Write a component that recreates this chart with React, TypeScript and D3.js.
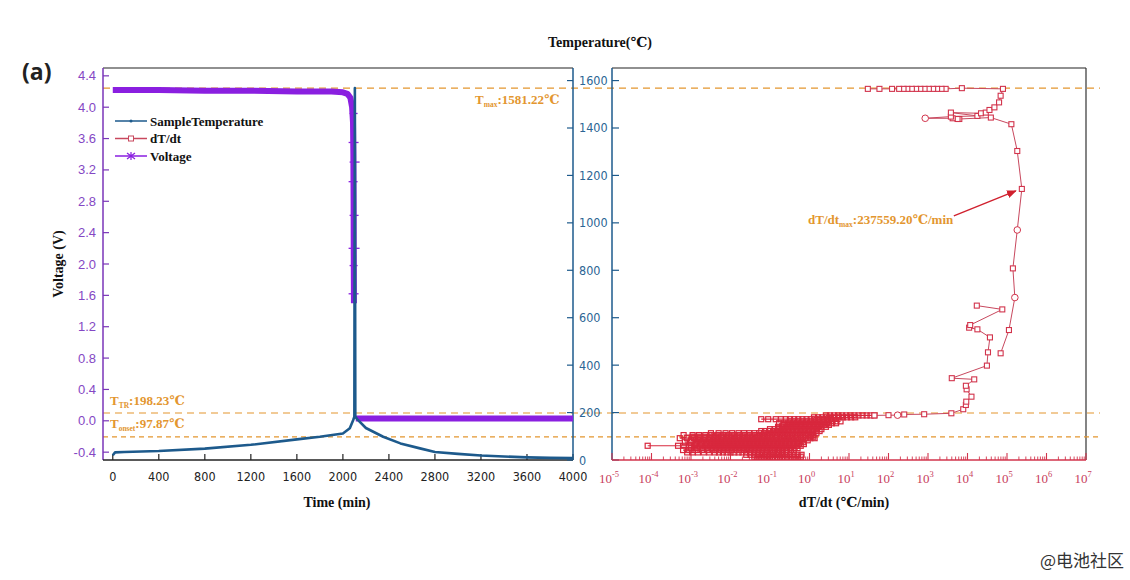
import React, { useEffect, useRef } from 'react';
import { select, scaleLinear, scaleLog, line } from 'd3';

// tick labels
const timeTicks = [0, 400, 800, 1200, 1600, 2000, 2400, 2800, 3200, 3600, 4000];
const voltageTicks = [-0.4, 0, 0.4, 0.8, 1.2, 1.6, 2.0, 2.4, 2.8, 3.2, 3.6, 4.0, 4.4];
const tempTicks = [0, 200, 400, 600, 800, 1000, 1200, 1400, 1600];
const rateExponents = [-5, -4, -3, -2, -1, 0, 1, 2, 3, 4, 5, 6, 7];

// voltage (time min, V)
const voltageBefore: [number, number][] = [
  [0, 4.22], [400, 4.22], [800, 4.21], [1200, 4.21], [1600, 4.2], [1900, 4.2], [2000, 4.19],
  [2040, 4.17], [2065, 4.12], [2080, 4.0], [2088, 3.8], [2091, 3.4], [2093, 2.8], [2094, 2.2],
  [2095, 1.8], [2096, 1.5],
];
const voltageAfter: [number, number][] = [
  [2112, 0.03], [2400, 0.03], [2800, 0.03], [3200, 0.03], [3600, 0.03], [4000, 0.03],
];
const voltageDropMarks = [3.92, 3.55, 3.3, 3.05, 2.62, 2.2, 1.98, 1.62];

// sample temperature (time min, °C)
const sampleTemp: [number, number][] = [
  [0, 20], [20, 32], [100, 34], [400, 38], [800, 48], [1200, 64], [1600, 87], [1800, 98],
  [2000, 112], [2060, 134], [2090, 169], [2100, 183], [2104, 1568], [2108, 183], [2130, 169],
  [2200, 135], [2350, 98], [2500, 70], [2670, 49], [2800, 34], [3000, 26], [3200, 19],
  [3400, 15], [3600, 11], [3800, 9], [4000, 8],
];

// dT/dt vs temperature, low-temperature rows (°C, then rates °C/min)
const lowRowTemps = [14, 22, 32, 42, 50, 60, 67, 75, 83, 92, 98, 105, 113, 122, 130, 140, 148, 155, 163, 172, 180, 188];
const lowRowRates = [
  [0.04, 0.048, 0.058, 0.07, 0.085, 0.1, 0.12, 0.15, 0.18, 0.22, 0.27, 0.33, 0.4, 0.5, 0.6],
  [0.025, 0.032, 0.04, 0.05, 0.062, 0.075, 0.092, 0.11, 0.14, 0.17, 0.21, 0.26, 0.32, 0.4, 0.5, 0.63],
  [8e-4, 1.1e-3, 1.5e-3, 2.1e-3, 2.9e-3, 4e-3, 5.1e-3, 6.4e-3, 8e-3, 0.01, 0.0125, 0.016, 0.02, 0.025, 0.031, 0.039, 0.049, 0.062, 0.078, 0.098, 0.12, 0.155, 0.2, 0.25],
  [6.3e-4, 9e-4, 1.3e-3, 1.9e-3, 2.7e-3, 3.5e-3, 4.4e-3, 5.6e-3, 7e-3, 8.8e-3, 0.011, 0.014, 0.017, 0.022, 0.027, 0.034, 0.043, 0.054, 0.068, 0.085, 0.11, 0.135, 0.17, 0.21, 0.27, 0.34, 0.4],
  [1e-3, 1.4e-3, 2e-3, 2.6e-3, 3.3e-3, 4.2e-3, 5.3e-3, 6.7e-3, 8.4e-3, 0.0105, 0.013, 0.0165, 0.021, 0.026, 0.033, 0.041, 0.052, 0.065, 0.082, 0.1, 0.13, 0.16, 0.2, 0.25, 0.32, 0.42, 0.5],
  [8e-5, 4.7e-4, 6.5e-4, 9e-4, 1.25e-3, 1.7e-3, 2.3e-3, 3e-3, 3.8e-3, 4.8e-3, 6e-3, 7.6e-3, 9.5e-3, 0.012, 0.015, 0.019, 0.024, 0.03, 0.038, 0.047, 0.06, 0.075, 0.094, 0.12, 0.15, 0.19, 0.24, 0.3, 0.38, 0.48, 0.6],
  [1.3e-3, 1.8e-3, 2.5e-3, 3.2e-3, 4e-3, 5e-3, 6.3e-3, 8e-3, 0.01, 0.0126, 0.016, 0.02, 0.025, 0.0316, 0.04, 0.05, 0.063, 0.079, 0.1, 0.126, 0.16, 0.2, 0.25, 0.32, 0.4, 0.55, 0.72],
  [7e-4, 1e-3, 1.4e-3, 1.9e-3, 2.6e-3, 3.4e-3, 4.3e-3, 5.5e-3, 7e-3, 8.9e-3, 0.0112, 0.0142, 0.018, 0.023, 0.029, 0.036, 0.046, 0.058, 0.073, 0.092, 0.116, 0.147, 0.185, 0.234, 0.3, 0.38, 0.5, 0.7],
  [1e-3, 1.5e-3, 2.1e-3, 2.8e-3, 3.6e-3, 4.6e-3, 5.8e-3, 7.4e-3, 9.3e-3, 0.0118, 0.015, 0.019, 0.024, 0.03, 0.038, 0.048, 0.061, 0.077, 0.097, 0.123, 0.155, 0.196, 0.25, 0.31, 0.4, 0.52, 0.68, 0.9],
  [5.2e-4, 8e-4, 1.2e-3, 1.7e-3, 2.3e-3, 3e-3, 3.9e-3, 5e-3, 6.4e-3, 8.1e-3, 0.0103, 0.013, 0.0165, 0.021, 0.0265, 0.034, 0.043, 0.054, 0.069, 0.087, 0.11, 0.14, 0.177, 0.225, 0.285, 0.36, 0.46, 0.6, 0.8, 1.05, 1.35],
  [1.1e-3, 1.6e-3, 2.2e-3, 3e-3, 4.2e-3, 5.8e-3, 8e-3, 0.011, 0.015, 0.02, 0.027, 0.036, 0.048, 0.064, 0.085, 0.113, 0.15, 0.2, 0.27, 0.36, 0.5, 0.7, 1.0, 1.25],
  [6.5e-4, 1.1e-3, 1.6e-3, 2.3e-3, 3.3e-3, 4.7e-3, 6.5e-3, 9e-3, 0.0125, 0.017, 0.023, 0.031, 0.042, 0.056, 0.075, 0.1, 0.135, 0.18, 0.24, 0.32, 0.43, 0.58, 0.8, 1.1, 1.25],
  [3.2e-3, 5e-3, 7.5e-3, 0.011, 0.016, 0.022, 0.03, 0.04, 0.053, 0.07, 0.092, 0.12, 0.16, 0.21, 0.28, 0.37, 0.5, 0.68, 0.9, 1.2, 1.5],
  [0.06, 0.075, 0.095, 0.12, 0.15, 0.19, 0.24, 0.3, 0.38, 0.48, 0.6, 0.76, 0.96, 1.2, 1.5, 1.8],
  [0.1, 0.13, 0.17, 0.22, 0.28, 0.36, 0.46, 0.59, 0.75, 0.96, 1.22, 1.56, 2.0],
  [0.16, 0.2, 0.25, 0.32, 0.4, 0.5, 0.63, 0.8, 1.0, 1.26, 1.6, 2.0, 2.6],
  [0.22, 0.28, 0.36, 0.46, 0.58, 0.74, 0.94, 1.2, 1.52, 1.94, 2.46, 3.1],
  [0.17, 0.22, 0.29, 0.37, 0.48, 0.62, 0.8, 1.03, 1.33, 1.7, 2.2, 2.85, 3.7, 4.7],
  [0.32, 0.41, 0.52, 0.67, 0.86, 1.1, 1.4, 1.8, 2.3, 2.95, 3.8, 4.8, 6.1],
  [0.06, 0.09, 0.14, 0.19, 0.25, 0.32, 0.41, 0.52, 0.66, 0.84, 1.07, 1.36, 1.73, 2.2, 2.8, 3.5],
  [1.3, 1.65, 2.1, 2.7, 3.4, 4.3, 5.5, 7, 8.9, 11.3, 14.4],
  [2.6, 3.3, 4.2, 5.3, 6.7, 8.5, 10.8, 13.7, 17.4, 22, 28, 35, 44],
];

// dT/dt vs temperature, runaway climb (rate, °C)
const rateClimb: [number, number][] = [
  [44, 188], [100, 189], [170, 189], [250, 192], [800, 193], [3900, 197], [7800, 214],
  [9100, 232], [9300, 246], [12600, 267], [9500, 298], [9100, 313], [14800, 340], [4000, 345],
  [31000, 398], [33000, 454], [37000, 517], [17800, 551], [11000, 558], [11700, 569],
  [76000, 635], [17200, 651],
];
const ratePeak: [number, number][] = [
  [69000, 450], [112000, 548], [158000, 685], [141000, 808], [182000, 970], [237559.2, 1143],
  [182000, 1303], [129000, 1416], [39000, 1444], [6200, 1438], [5600, 1438], [4200, 1441],
  [850, 1441], [3800, 1448], [17800, 1451], [3800, 1465], [22000, 1462], [29000, 1465],
  [36000, 1476], [48000, 1487], [63000, 1508], [69000, 1536], [79000, 1565], [7200, 1568],
  [2800, 1565], [2200, 1565], [1700, 1565], [1350, 1565], [1050, 1565], [820, 1565],
  [640, 1565], [500, 1565], [390, 1565], [300, 1565], [240, 1565], [186, 1565], [123, 1565],
  [59, 1565], [30, 1565],
];
const rateCircles: [number, number][] = [[170, 189], [850, 1441], [182000, 970], [158000, 685]];

const T_MAX = 1581.22;
const T_TR = 198.23;
const T_ONSET = 97.87;
const RATE_MAX = 237559.2;

const ORANGE = '#e3962f';
const PURPLE = '#8a1fe0';
const TEAL = '#1d5a8c';
const RED = '#d2344c';
const DENSE_RED = '#d8283e';
const SERIF = '"Liberation Serif", "DejaVu Serif", serif';
const SANS = '"Liberation Sans", Arial, sans-serif';
const NARROW = '"DejaVu Sans Condensed", "Liberation Sans Narrow", "Liberation Sans", sans-serif';

const App: React.FC = () => {
  const svgRef = useRef<SVGSVGElement | null>(null);

  useEffect(() => {
    const svg = select(svgRef.current);
    svg.selectAll('*').remove();

    const xTime = scaleLinear().domain([-85, 4000]).range([103, 573]);
    const yVolt = scaleLinear().domain([-0.5, 4.5]).range([460, 68]);
    const yTemp = scaleLinear().domain([0, 1653]).range([460, 68]);
    const xRate = scaleLog().domain([1e-5, 1e7]).range([612, 1086]);

    const [l0, l1] = xTime.range();
    const [r0, r1] = xRate.range();
    const [bot, top] = yVolt.range();

    // frames
    svg.append('line').attr('x1', l0).attr('x2', l1).attr('y1', top).attr('y2', top).attr('stroke', '#222').attr('stroke-width', 1.2);
    svg.append('line').attr('x1', r0).attr('x2', r1).attr('y1', top).attr('y2', top).attr('stroke', '#222').attr('stroke-width', 1.2);
    svg.append('line').attr('x1', r1).attr('x2', r1).attr('y1', top).attr('y2', bot).attr('stroke', '#333').attr('stroke-width', 1.2);

    // dashed reference lines
    const tPeak = Math.max(...sampleTemp.map(d => d[1]));
    [tPeak, T_TR, T_ONSET].forEach((t, i) => {
      svg.append('line')
        .attr('x1', l0).attr('x2', 1100)
        .attr('y1', yTemp(t)).attr('y2', yTemp(t))
        .attr('stroke', ORANGE).attr('stroke-width', 1.2)
        .attr('stroke-dasharray', i === 2 ? '5,4' : '7,5');
    });

    // left voltage axis
    svg.append('line').attr('x1', l0).attr('x2', l0).attr('y1', top).attr('y2', bot).attr('stroke', '#7a35b8').attr('stroke-width', 1.5);
    voltageTicks.forEach(v => {
      svg.append('line').attr('x1', l0).attr('x2', l0 + 6).attr('y1', yVolt(v)).attr('y2', yVolt(v)).attr('stroke', '#7a35b8').attr('stroke-width', 1.2);
      svg.append('text').attr('x', l0 - 7).attr('y', yVolt(v) + 4.5)
        .attr('text-anchor', 'end').attr('font-family', SANS).attr('font-size', 13)
        .attr('fill', '#8447c4').text(v.toFixed(1));
    });

    // bottom time axis
    svg.append('line').attr('x1', l0).attr('x2', l1).attr('y1', bot).attr('y2', bot).attr('stroke', '#222').attr('stroke-width', 1.5);
    timeTicks.forEach(t => {
      svg.append('line').attr('x1', xTime(t)).attr('x2', xTime(t)).attr('y1', bot).attr('y2', bot - 6).attr('stroke', '#222').attr('stroke-width', 1.2);
      svg.append('text').attr('x', xTime(t)).attr('y', bot + 21)
        .attr('text-anchor', 'middle').attr('font-family', NARROW).attr('font-size', 12.5)
        .attr('fill', '#222').text(t);
    });

    // middle temperature axis
    svg.append('line').attr('x1', l1).attr('x2', l1).attr('y1', top).attr('y2', bot).attr('stroke', TEAL).attr('stroke-width', 1.5);
    svg.append('line').attr('x1', r0).attr('x2', r0).attr('y1', top).attr('y2', bot).attr('stroke', TEAL).attr('stroke-width', 1.5);
    tempTicks.forEach(t => {
      svg.append('line').attr('x1', l1 - 6).attr('x2', l1).attr('y1', yTemp(t)).attr('y2', yTemp(t)).attr('stroke', TEAL).attr('stroke-width', 1.2);
      svg.append('line').attr('x1', r0).attr('x2', r0 + 7).attr('y1', yTemp(t)).attr('y2', yTemp(t)).attr('stroke', TEAL).attr('stroke-width', 1.2);
      svg.append('text').attr('x', l1 + 6).attr('y', yTemp(t) + 4.5)
        .attr('font-family', NARROW).attr('font-size', 12.5)
        .attr('fill', '#2b6594').text(t);
    });

    // right log axis
    svg.append('line').attr('x1', r0).attr('x2', r1).attr('y1', bot).attr('y2', bot).attr('stroke', RED).attr('stroke-width', 1.5);
    rateExponents.forEach(e => {
      const x = xRate(Math.pow(10, e));
      svg.append('line').attr('x1', x).attr('x2', x).attr('y1', bot).attr('y2', bot - 7).attr('stroke', RED).attr('stroke-width', 1.1);
      if (e < 7) {
        [2, 3, 4, 5, 6, 7, 8, 9].forEach(m => {
          const xm = xRate(m * Math.pow(10, e));
          svg.append('line').attr('x1', xm).attr('x2', xm).attr('y1', bot).attr('y2', bot - 3.5).attr('stroke', RED).attr('stroke-width', 0.9);
        });
      }
      const lbl = svg.append('text').attr('x', x - 3).attr('y', bot + 23)
        .attr('text-anchor', 'middle').attr('font-family', SERIF).attr('font-size', 13)
        .attr('fill', '#c8405c');
      lbl.append('tspan').text('10');
      lbl.append('tspan').attr('font-size', 8.5).attr('dy', -6).text(String(e));
    });

    // voltage series
    const vLine = line<[number, number]>().x(d => xTime(d[0])).y(d => yVolt(d[1]));
    [voltageBefore, voltageAfter].forEach(arr => {
      svg.append('path').attr('d', vLine(arr)).attr('fill', 'none')
        .attr('stroke', PURPLE).attr('stroke-width', 6).attr('stroke-linejoin', 'round');
    });
    const xDrop = xTime(2093);
    voltageDropMarks.forEach((v, i) => {
      svg.append('line').attr('x1', xDrop - 4 - (i % 2)).attr('x2', xDrop + 4 + (i % 3)).attr('y1', yVolt(v)).attr('y2', yVolt(v))
        .attr('stroke', PURPLE).attr('stroke-width', 1.3);
    });

    // temperature series
    const tLine = line<[number, number]>().x(d => xTime(d[0])).y(d => yTemp(d[1]));
    svg.append('path').attr('d', tLine(sampleTemp)).attr('fill', 'none')
      .attr('stroke', TEAL).attr('stroke-width', 2.6).attr('stroke-linejoin', 'round');
    svg.append('path').attr('d', tLine(sampleTemp.slice(10, 13))).attr('fill', 'none')
      .attr('stroke', TEAL).attr('stroke-width', 1.4);

    // dT/dt series
    const rLine = line<[number, number]>().x(d => xRate(d[0])).y(d => yTemp(d[1]));
    const circleKey = new Set(rateCircles.map(d => d.join(',')));
    const lowGroups: [number, number][][] = lowRowRates.map((row, i) => row.map(r => [r, lowRowTemps[i]] as [number, number]));

    // dense low-temperature cloud: hollow squares that overlap into a solid band
    lowGroups.forEach(g => {
      svg.append('path').attr('d', rLine(g)).attr('fill', 'none')
        .attr('stroke', DENSE_RED).attr('stroke-width', 1.2);
      g.forEach(d => {
        svg.append('rect').attr('x', xRate(d[0]) - 2.5).attr('y', yTemp(d[1]) - 2.5).attr('width', 5).attr('height', 5)
          .attr('fill', 'none').attr('stroke', DENSE_RED).attr('stroke-width', 1.2);
      });
    });

    [rateClimb, ratePeak].forEach(g => {
      svg.append('path').attr('d', rLine(g)).attr('fill', 'none')
        .attr('stroke', '#c8485e').attr('stroke-width', 1);
    });
    [rateClimb, ratePeak].forEach(g => {
      g.forEach(d => {
        const cx = xRate(d[0]);
        const cy = yTemp(d[1]);
        if (circleKey.has(d.join(','))) {
          svg.append('circle').attr('cx', cx).attr('cy', cy).attr('r', 3.3)
            .attr('fill', '#fff').attr('stroke', RED).attr('stroke-width', 1);
        } else {
          svg.append('rect').attr('x', cx - 2.5).attr('y', cy - 2.5).attr('width', 5).attr('height', 5)
            .attr('fill', '#fff').attr('stroke', RED).attr('stroke-width', 1.1);
        }
      });
    });

    // annotations
    const annot = (x: number, y: number, main: string, sub: string, rest: string) => {
      const t = svg.append('text').attr('x', x).attr('y', y)
        .attr('font-family', SERIF).attr('font-weight', 'bold').attr('font-size', 13)
        .attr('fill', ORANGE);
      t.append('tspan').text(main);
      t.append('tspan').attr('font-size', 7.5).attr('dy', 3).text(sub);
      t.append('tspan').attr('dy', -3).text(rest);
    };
    annot(475, 104, 'T', 'max', `:${T_MAX.toFixed(2)}\u2103`);
    annot(110, 405, 'T', 'TR', `:${T_TR.toFixed(2)}\u2103`);
    annot(110, 428, 'T', 'onset', `:${T_ONSET.toFixed(2)}\u2103`);
    annot(808, 224, 'dT/dt', 'max', `:${RATE_MAX.toFixed(2)}\u2103/min`);

    const peakPt = ratePeak.find(d => d[0] === RATE_MAX)!;
    const tipX = xRate(peakPt[0]) - 6;
    const tipY = yTemp(peakPt[1]) + 2;
    svg.append('defs').append('marker').attr('id', 'arrowHead')
      .attr('viewBox', '0 0 10 10').attr('refX', 9).attr('refY', 5)
      .attr('markerWidth', 7).attr('markerHeight', 7).attr('orient', 'auto')
      .append('path').attr('d', 'M0,1 L10,5 L0,9 Z').attr('fill', '#d0202e');
    svg.append('line').attr('x1', tipX - 62).attr('y1', tipY + 25).attr('x2', tipX).attr('y2', tipY)
      .attr('stroke', '#d0202e').attr('stroke-width', 1.4).attr('marker-end', 'url(#arrowHead)');

    // legend
    const legend = [
      { label: 'SampleTemperature', color: TEAL },
      { label: 'dT/dt', color: '#c8485e' },
      { label: 'Voltage', color: PURPLE },
    ];
    legend.forEach((d, i) => {
      const y = 121 + i * 17.5;
      svg.append('line').attr('x1', 115).attr('x2', 147).attr('y1', y).attr('y2', y)
        .attr('stroke', d.color).attr('stroke-width', 1.5);
      if (i === 0) {
        svg.append('circle').attr('cx', 131).attr('cy', y).attr('r', 1.5).attr('fill', d.color);
      } else if (i === 1) {
        svg.append('rect').attr('x', 128.5).attr('y', y - 2.5).attr('width', 5).attr('height', 5)
          .attr('fill', '#fff').attr('stroke', d.color).attr('stroke-width', 1);
      } else {
        svg.append('path').attr('d', `M127,${y - 3} L135,${y + 3} M127,${y + 3} L135,${y - 3} M131,${y - 4} L131,${y + 4}`)
          .attr('stroke', d.color).attr('stroke-width', 1.2);
      }
      svg.append('text').attr('x', 150).attr('y', y + 4.5)
        .attr('font-family', SERIF).attr('font-weight', 'bold').attr('font-size', 13)
        .attr('fill', '#111').text(d.label);
    });

    // titles
    svg.append('text').attr('transform', 'translate(63,264) rotate(-90)')
      .attr('text-anchor', 'middle').attr('font-family', SERIF).attr('font-weight', 'bold')
      .attr('font-size', 14).attr('fill', '#111').text('Voltage (V)');
    svg.append('text').attr('x', 337).attr('y', 507).attr('text-anchor', 'middle')
      .attr('font-family', SERIF).attr('font-weight', 'bold').attr('font-size', 14)
      .attr('fill', '#111').text('Time (min)');
    svg.append('text').attr('x', 844).attr('y', 507).attr('text-anchor', 'middle')
      .attr('font-family', SERIF).attr('font-weight', 'bold').attr('font-size', 14)
      .attr('fill', '#111').text('dT/dt (\u2103/min)');
    svg.append('text').attr('x', 600).attr('y', 47).attr('text-anchor', 'middle')
      .attr('font-family', SERIF).attr('font-weight', 'bold').attr('font-size', 14)
      .attr('fill', '#111').text('Temperature(\u2103)');
    svg.append('text').attr('x', 22).attr('y', 80)
      .attr('font-family', '"Open Sans", "Noto Sans", sans-serif').attr('font-weight', 'bold')
      .attr('font-size', 23).attr('fill', '#222').text('(a)');
    svg.append('text').attr('x', 1124).attr('y', 567).attr('text-anchor', 'end')
      .attr('font-family', '"Noto Sans CJK SC", sans-serif').attr('font-size', 17)
      .attr('fill', '#333').text('@电池社区');
  }, []);

  return (
    <svg ref={svgRef} width={1130} height={580}
      style={{ position: 'absolute', left: 0, top: 0, background: '#fff' }} />
  );
};

export default App;
